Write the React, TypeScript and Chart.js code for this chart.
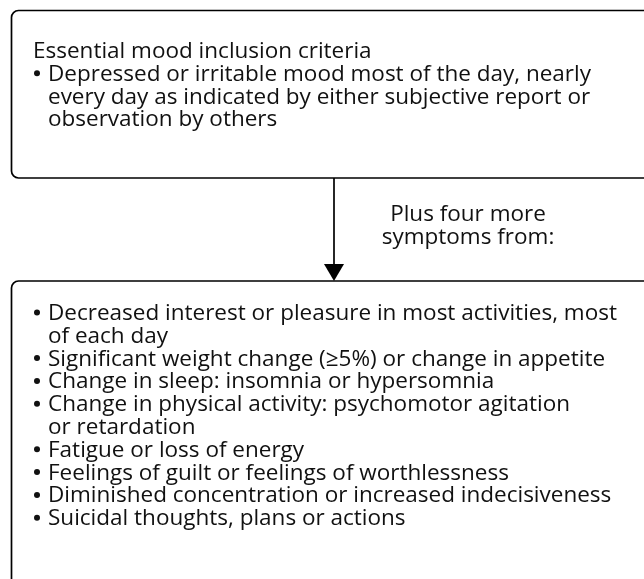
import React, { useEffect, useRef } from "react";
import { Chart, registerables } from "chart.js";

Chart.register(...registerables);

const headerTitle = "Essential mood inclusion criteria";
const moodCriterion = [
  "Depressed or irritable mood most of the day, nearly",
  "every day as indicated by either subjective report or",
  "observation by others",
];
const connectorLabel = ["Plus four more", "symptoms from:"];
const symptoms: string[][] = [
  ["Decreased interest or pleasure in most activities, most", "of each day"],
  ["Significant weight change (\u22655%) or change in appetite"],
  ["Change in sleep: insomnia or hypersomnia"],
  ["Change in physical activity: psychomotor agitation", "or retardation"],
  ["Fatigue or loss of energy"],
  ["Feelings of guilt or feelings of worthlessness"],
  ["Diminished concentration or increased indecisiveness"],
  ["Suicidal thoughts, plans or actions"],
];

const FONT = '22.5px "Open Sans", "Noto Sans", sans-serif';
const TEXT = "#111111";

function roundRect(ctx: CanvasRenderingContext2D, x0: number, y0: number, x1: number, y1: number, r: number) {
  ctx.beginPath();
  ctx.moveTo(x0 + r, y0);
  ctx.lineTo(x1 - r, y0);
  ctx.arcTo(x1, y0, x1, y0 + r, r);
  ctx.lineTo(x1, y1 - r);
  ctx.arcTo(x1, y1, x1 - r, y1, r);
  ctx.lineTo(x0 + r, y1);
  ctx.arcTo(x0, y1, x0, y1 - r, r);
  ctx.lineTo(x0, y0 + r);
  ctx.arcTo(x0, y0, x0 + r, y0, r);
  ctx.closePath();
  ctx.stroke();
}

const flowPlugin = {
  id: "flow",
  afterDraw(chart: any) {
    const ctx: CanvasRenderingContext2D = chart.ctx;
    const sx = chart.scales.x;
    const sy = chart.scales.y;
    const X = (v: number) => sx.getPixelForValue(v);
    const Y = (v: number) => sy.getPixelForValue(v);
    const bullet = (yb: number) => {
      ctx.beginPath();
      ctx.arc(X(37), Y(yb - 7.5), 3, 0, Math.PI * 2);
      ctx.fill();
    };
    ctx.save();
    ctx.strokeStyle = "#000";
    ctx.lineWidth = 1.7;
    roundRect(ctx, X(11.5), Y(10.5), X(660), Y(178), 7);
    roundRect(ctx, X(11.5), Y(281), X(660), Y(600), 7);
    ctx.beginPath();
    ctx.moveTo(X(334), Y(178));
    ctx.lineTo(X(334), Y(265));
    ctx.stroke();
    ctx.fillStyle = "#000";
    ctx.beginPath();
    ctx.moveTo(X(324), Y(264));
    ctx.lineTo(X(344), Y(264));
    ctx.lineTo(X(334), Y(281));
    ctx.closePath();
    ctx.fill();

    ctx.fillStyle = TEXT;
    ctx.font = FONT;
    ctx.textBaseline = "alphabetic";
    ctx.textAlign = "left";
    const lh = 22.8;
    let y = 58;
    ctx.fillText(headerTitle, X(33), Y(y));
    y += lh;
    moodCriterion.forEach((line, i) => {
      if (i === 0) bullet(y);
      ctx.fillText(line, X(48), Y(y));
      y += lh;
    });
    ctx.textAlign = "center";
    connectorLabel.forEach((line, i) => {
      ctx.fillText(line, X(468), Y(221 + i * lh));
    });
    ctx.textAlign = "left";
    y = 320;
    symptoms.forEach((item) => {
      item.forEach((line, i) => {
        if (i === 0) bullet(y);
        ctx.fillText(line, X(48), Y(y));
        y += lh;
      });
    });
    ctx.restore();
  },
};

export default function App() {
  const ref = useRef<HTMLCanvasElement | null>(null);
  useEffect(() => {
    document.body.style.margin = "0";
    const canvas = ref.current!;
    const chart = new Chart(canvas, {
      type: "scatter",
      data: { datasets: [{ data: [], pointRadius: 0 }] },
      options: {
        animation: false,
        responsive: false,
        events: [],
        layout: { padding: 0 },
        plugins: { legend: { display: false }, tooltip: { enabled: false }, title: { display: false } },
        scales: {
          x: { type: "linear", min: 0, max: 644, display: false },
          y: { type: "linear", min: 0, max: 579, reverse: true, display: false },
        },
      },
      plugins: [flowPlugin],
    });
    return () => chart.destroy();
  }, []);
  return (
    <div style={{ position: "absolute", left: 0, top: 0, width: 644, height: 579, background: "#fff" }}>
      <canvas ref={ref} width={644} height={579} style={{ width: 644, height: 579 }} />
    </div>
  );
}
